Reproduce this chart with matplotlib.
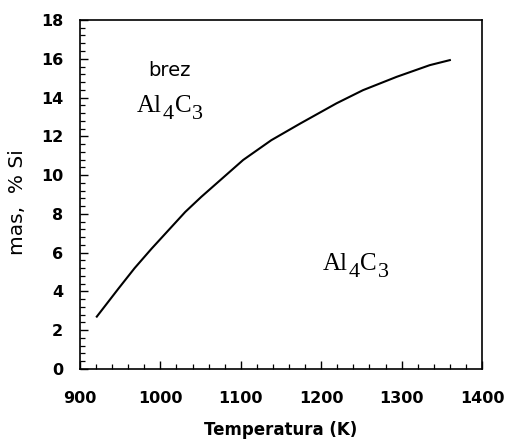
import numpy as np
import matplotlib as mpl
mpl.use("Agg")
import matplotlib.pyplot as plt
from matplotlib.ticker import MultipleLocator

# solubility curve
temp_k = [921, 948, 968, 989, 1010, 1031, 1051, 1074, 1103, 1138,
          1174, 1219, 1252, 1294, 1335, 1360]
si_mass = [2.7, 4.15, 5.2, 6.2, 7.15, 8.1, 8.88, 9.72, 10.78, 11.8,
           12.66, 13.7, 14.38, 15.07, 15.67, 15.93]

x_ticks = [900, 1000, 1100, 1200, 1300, 1400]
y_ticks = [0, 2, 4, 6, 8, 10, 12, 14, 16, 18]

fig = plt.figure(figsize=(5.09, 4.44), dpi=100)
ax = fig.add_axes([0.157, 0.169, 0.790, 0.786])

ax.plot(temp_k, si_mass, color="black", lw=1.5)

ax.set_xlim(900, 1400)
ax.set_ylim(0, 18)
ax.set_xticks(x_ticks)
ax.set_yticks(y_ticks)
ax.xaxis.set_minor_locator(MultipleLocator(20))
ax.yaxis.set_minor_locator(MultipleLocator(0.4))
ax.tick_params(which="both", direction="in", top=False, right=False)
ax.tick_params(which="major", length=6, width=1.0)
ax.tick_params(which="minor", length=3.5, width=0.9)
ax.tick_params(axis="x", pad=16)
ax.tick_params(axis="y", pad=12)
for spine in ax.spines.values():
    spine.set_linewidth(1.2)

for lab in ax.get_xticklabels() + ax.get_yticklabels():
    lab.set_family("DejaVu Sans")
    lab.set_fontweight("bold")
    lab.set_fontsize(11.5)

ax.set_xlabel("Temperatura (K)", family="DejaVu Sans", fontweight="bold",
              fontsize=12, labelpad=11)
ax.set_ylabel("mas,  % Si", family="DejaVu Sans", fontsize=14.5)
ax.yaxis.set_label_coords(-0.132, 0.477)

ax.text(1011, 15.4, "brez", family="DejaVu Sans", fontsize=14,
        ha="center", va="center")


def formula(x, y):
    # Al4C3 with near full-size, lowered subscripts
    kw = dict(family="Liberation Serif", va="bottom", ha="left",
              textcoords="offset points")
    t1 = ax.text(x, y, "Al", family="Liberation Serif", fontsize=18,
                 ha="left", va="baseline")
    t2 = ax.annotate("4", xy=(1, 0), xycoords=t1, xytext=(0.5, -5),
                     fontsize=16, **kw)
    t3 = ax.annotate("C", xy=(1, 0), xycoords=(t2, t1), xytext=(0.5, 0),
                     fontsize=18, **kw)
    ax.annotate("3", xy=(1, 0), xycoords=t3, xytext=(0.8, -5),
                fontsize=16, **kw)


formula(971, 13.26)
formula(1202, 5.1)

fig.savefig("out.png", dpi=100)
plt.close(fig)
